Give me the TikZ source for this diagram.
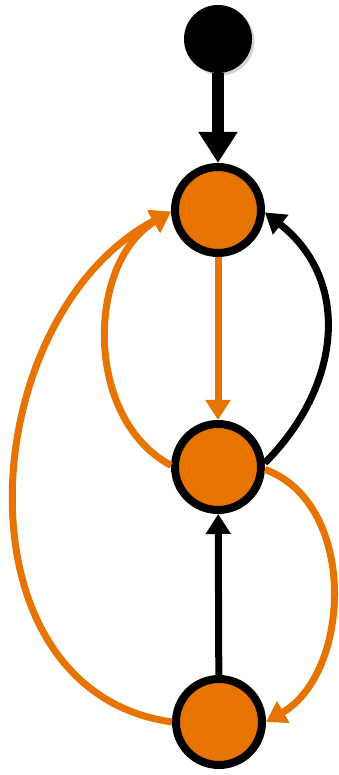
\documentclass[tikz,border=0pt]{standalone}
\usepackage{tikz}
\usetikzlibrary{arrows.meta, shadows}
\definecolor{stateorange}{HTML}{E77400}

\begin{document}
\begin{tikzpicture}[x=1pt, y=1pt,
    statenode/.style={circle, draw=black, line width=8pt, fill=stateorange,
        minimum size=86pt, inner sep=0pt,
        drop shadow={shadow xshift=2.5pt, shadow yshift=-2.5pt, opacity=0.35}},
    initnode/.style={circle, fill=black, minimum size=68pt, inner sep=0pt,
        drop shadow={shadow xshift=2.5pt, shadow yshift=-2.5pt, opacity=0.35}},
    edge/.style={line width=7pt, -{Triangle[width=24pt, length=20pt]}},
    edgeorange/.style={edge, draw=stateorange}
]
\useasboundingbox (0,0) rectangle (339,775);

% States
\node[initnode] (init) at (218, 736) {};
\node[statenode] (top) at (218, 565) {};
\node[statenode] (mid) at (218, 308) {};
\node[statenode] (bot) at (219, 53) {};

% Initial transition
\draw[line width=12pt, -{Triangle[width=37pt, length=31pt]}] (init) -- (top);

% Transitions
\draw[edgeorange] (top) -- (mid);
\draw[edge] (bot) -- (mid);
\draw[edge] (mid.5) to[out=45, in=-38, looseness=1.12] (top.-3);
\draw[edgeorange] (mid.178) to[out=152, in=211, looseness=1.0] (top.182);
\draw[edgeorange] (bot.west) to[out=172, in=208, looseness=1.12] (top.182);
\draw[edgeorange] (mid.-3) to[out=-20, in=30, looseness=1.0] (bot.east);
\end{tikzpicture}
\end{document}
